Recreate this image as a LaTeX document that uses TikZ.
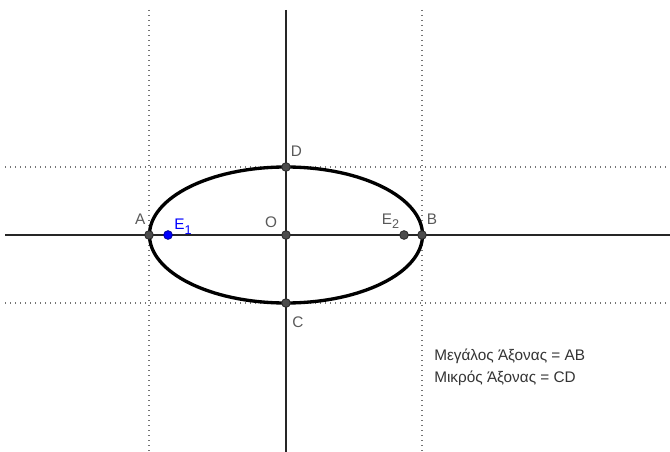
\documentclass[tikz,border=0pt]{standalone}
\usepackage{fontspec}
\setmainfont{Liberation Sans}
\usetikzlibrary{positioning}

\newcommand{\subidx}[1]{\raisebox{-3.5pt}{\fontsize{9.5}{11}\selectfont #1}}

\begin{document}
\begin{tikzpicture}[x=0.75pt, y=-0.75pt, node distance=1pt, pt/.style={circle, draw=black!85, fill=black!70, line width=0.6pt, inner sep=0pt, minimum size=6.5pt}, focus/.style={pt, draw=blue!60!black, fill=blue}, lbl/.style={text=black!65, font=\fontsize{11.5}{14}\selectfont, inner sep=0pt}, axis/.style={draw=black!85, line width=1pt}, guide/.style={draw=black!55, line width=1.2pt, dash pattern=on 1.1pt off 2.65pt}]
\useasboundingbox (0,0) rectangle (670,452);
\coordinate (xl) at (5,235);
\coordinate (xr) at (670,235);
\coordinate (yt) at (286,10);
\coordinate (yb) at (286,452);
\coordinate (gal) at (5,167);
\coordinate (gar) at (670,167);
\coordinate (gbl) at (5,303);
\coordinate (gbr) at (670,303);
\coordinate (gct) at (149,10);
\coordinate (gcb) at (149,452);
\coordinate (gdt) at (422,10);
\coordinate (gdb) at (422,452);
\draw[guide] (gal) -- (gar);
\draw[guide] (gbl) -- (gbr);
\draw[guide] (gct) -- (gcb);
\draw[guide] (gdt) -- (gdb);
\draw[axis] (xl) -- (xr);
\draw[axis] (yt) -- (yb);
\draw[line width=2.5pt] (286,235) ellipse [x radius=102.4pt, y radius=51pt];
\node[pt] (O) at (286,235) {};
\node[pt] (A) at (149,235) {};
\node[pt] (B) at (422,235) {};
\node[pt] (C) at (286,303) {};
\node[pt] (D) at (286,167) {};
\node[focus] (E1) at (168,235) {};
\node[pt] (E2) at (404,235) {};
\node[lbl, above left=5pt and 0pt of A] (la) {A};
\node[lbl, above left=3pt and 4pt of O] (lo) {O};
\node[lbl, above right=5pt and 1pt of B] (lb) {B};
\node[lbl, above right=5pt and 1pt of D] (ld) {D};
\node[lbl, below right=8pt and 2pt of C] (lc) {C};
\node[lbl, text=blue, above right=-2pt and 2pt of E1] (le1) {E\subidx{1}};
\node[lbl, above left=2pt and 1pt of E2] (le2) {E\subidx{2}};
\node[lbl, text=black!80, anchor=west] (major) at (434,356) {Μεγάλος Άξονας = AB};
\node[lbl, text=black!80, below=16.5pt of major.west, anchor=west] (minor) {Μικρός Άξονας = CD};
\end{tikzpicture}
\end{document}
